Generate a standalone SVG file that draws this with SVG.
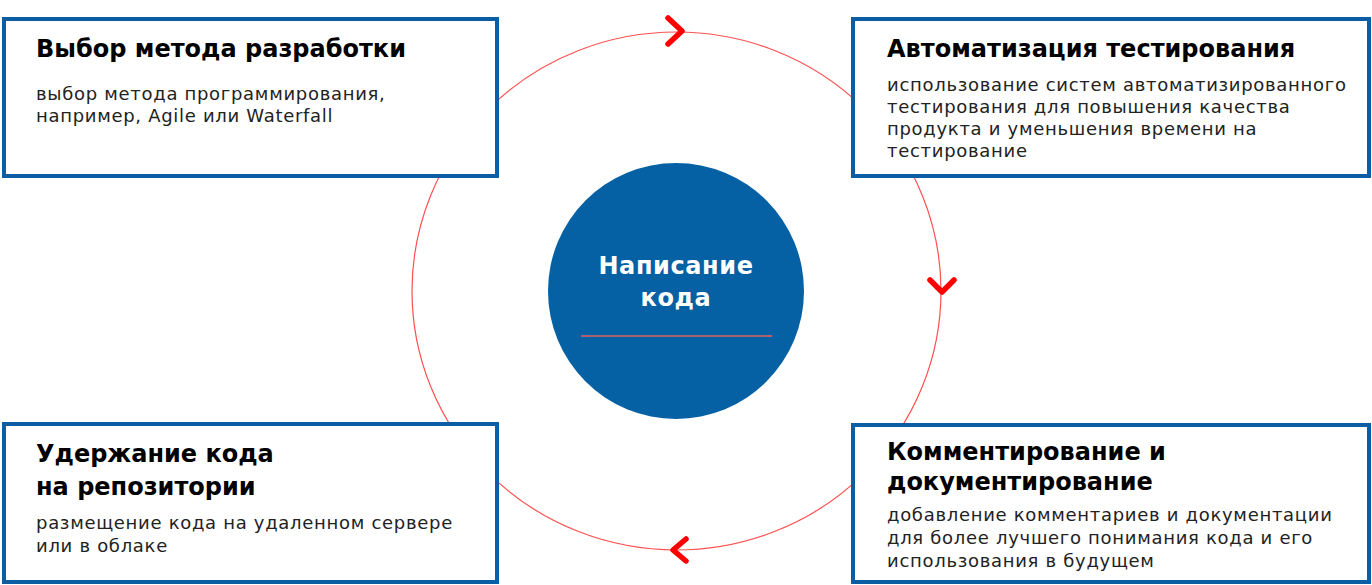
<svg xmlns="http://www.w3.org/2000/svg" width="1372" height="585" viewBox="0 0 1372 585">
<style>
.box{fill:#fff;stroke:#0b5ea4;stroke-width:4}
.ttl{font-family:"DejaVu Sans","Liberation Sans",sans-serif;font-weight:bold;font-size:24px;fill:#000}
.txt{font-family:"DejaVu Sans","Liberation Sans",sans-serif;font-size:18px;letter-spacing:0.7px;fill:#222}
.chev{fill:none;stroke:#ff0000;stroke-width:5.5;stroke-linecap:round;stroke-linejoin:round}
.ctr{font-family:"DejaVu Sans","Liberation Sans",sans-serif;font-weight:bold;font-size:24px;letter-spacing:0.6px;fill:#fff}
</style>
<rect width="1372" height="585" fill="#fff"/>
<g id="connectors">
<ellipse cx="676.5" cy="291" rx="264.5" ry="259" fill="none" stroke="#ff5050" stroke-width="1.2"/>
<polyline class="chev" points="668,18 682,31 668,44"/>
<polyline class="chev" points="930,280 942,292 954,280"/>
<polyline class="chev" points="686,539 673,550 686,561"/>
</g>
<g id="center">
<circle cx="676" cy="291" r="128" fill="#0560a4"/>
<text class="ctr" x="676" y="274" text-anchor="middle">Написание</text>
<text class="ctr" x="676" y="306" text-anchor="middle">кода</text>
<line x1="581" y1="336" x2="772" y2="336" stroke="#e06060" stroke-width="1.5"/>
</g>
<g id="box1">
<rect class="box" x="4" y="19" width="493" height="157"/>
<text class="ttl" x="36" y="57">Выбор метода разработки</text>
<text class="txt" x="36" y="100">выбор метода программирования,</text>
<text class="txt" x="36" y="122">например, Agile или Waterfall</text>
</g>
<g id="box2">
<rect class="box" x="853" y="19" width="516" height="157"/>
<text class="ttl" x="887" y="57">Автоматизация тестирования</text>
<text class="txt" x="887" y="91">использование систем автоматизированного</text>
<text class="txt" x="887" y="113">тестирования для повышения качества</text>
<text class="txt" x="887" y="135">продукта и уменьшения времени на</text>
<text class="txt" x="887" y="157">тестирование</text>
</g>
<g id="box3">
<rect class="box" x="4" y="424" width="493" height="158"/>
<text class="ttl" x="36" y="462">Удержание кода</text>
<text class="ttl" x="36" y="495">на репозитории</text>
<text class="txt" x="36" y="529">размещение кода на удаленном сервере</text>
<text class="txt" x="36" y="552">или в облаке</text>
</g>
<g id="box4">
<rect class="box" x="853" y="425" width="516" height="157"/>
<text class="ttl" x="887" y="460">Комментирование  и</text>
<text class="ttl" x="887" y="490">документирование</text>
<text class="txt" x="887" y="521">добавление комментариев и документации</text>
<text class="txt" x="887" y="544">для более лучшего понимания кода и его</text>
<text class="txt" x="887" y="567">использования в будущем</text>
</g>
</svg>
